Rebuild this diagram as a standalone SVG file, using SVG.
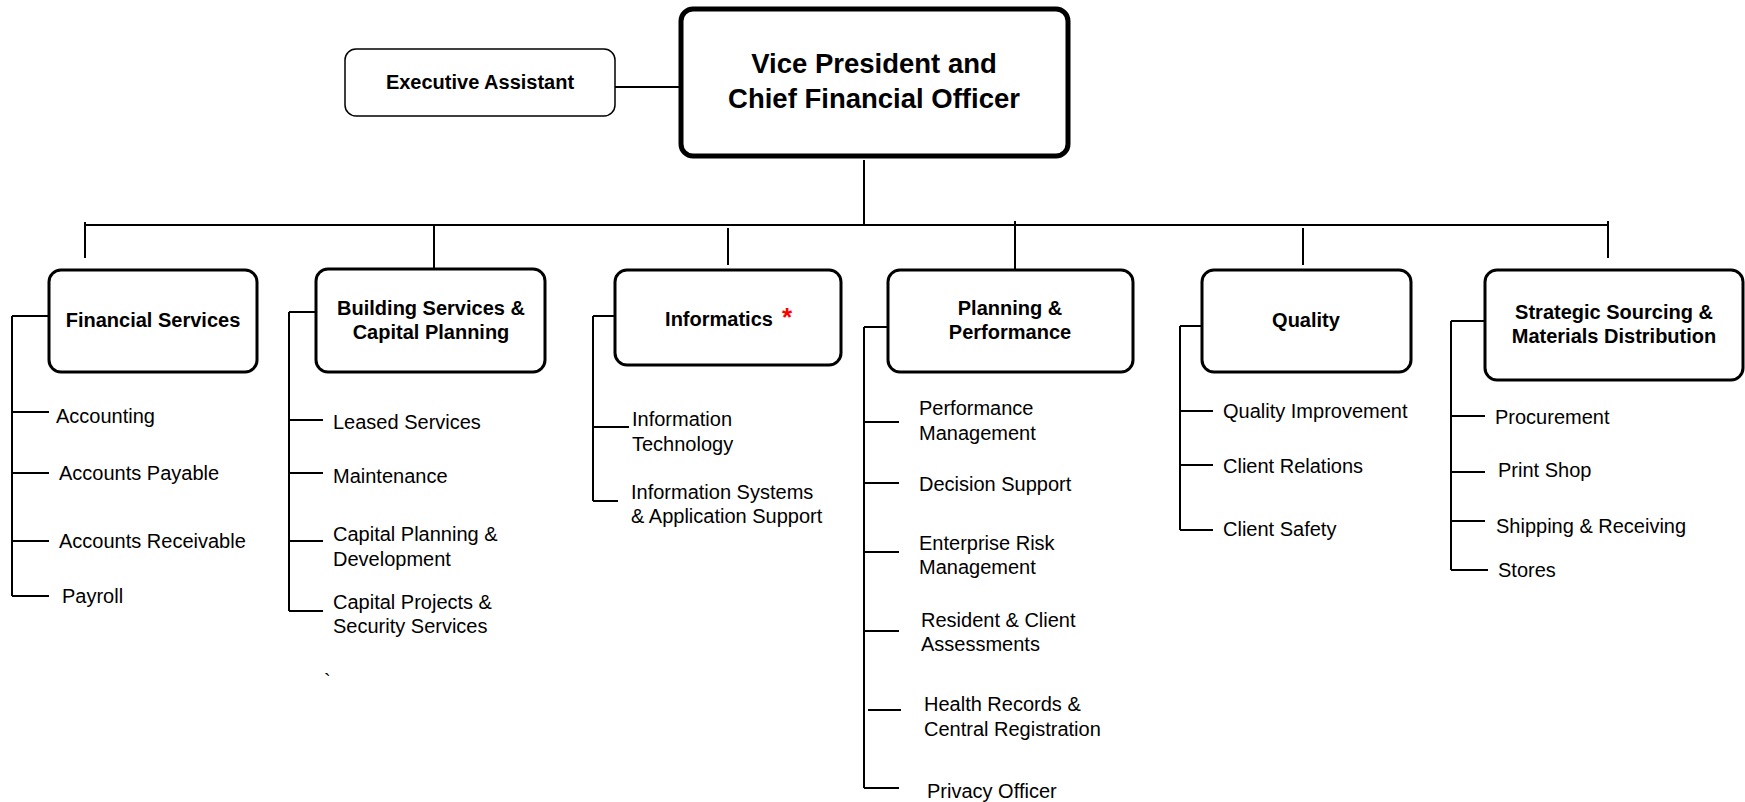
<svg xmlns="http://www.w3.org/2000/svg" width="1745" height="802" viewBox="0 0 1745 802">
<style>
.box{fill:#fff;stroke:#000;stroke-width:3}
.vp{fill:#fff;stroke:#000;stroke-width:5}
.ea{fill:#fff;stroke:#000;stroke-width:1.5}
.t{font-family:"Liberation Sans",Arial,sans-serif;font-weight:bold;font-size:20px;text-anchor:middle;fill:#000}
.vt{font-family:"Liberation Sans",Arial,sans-serif;font-weight:bold;font-size:27.5px;text-anchor:middle;fill:#000}
.i{font-family:"Liberation Sans",Arial,sans-serif;font-size:20px;fill:#000}
.star{font-family:"Liberation Sans",Arial,sans-serif;font-weight:bold;font-size:26px;text-anchor:middle;fill:#ff0000}
.c line{stroke:#000;stroke-width:2}
</style>
<rect width="1745" height="802" fill="#fff"/>
<g class="c" id="connectors">
<line x1="615" y1="87" x2="681" y2="87"/>
<line x1="864" y1="160" x2="864" y2="224"/>
<line x1="85" y1="225" x2="1609" y2="225"/>
<line x1="85" y1="222" x2="85" y2="258"/>
<line x1="434" y1="225" x2="434" y2="269"/>
<line x1="728" y1="228" x2="728" y2="265"/>
<line x1="1015" y1="221" x2="1015" y2="270"/>
<line x1="1303" y1="228" x2="1303" y2="265"/>
<line x1="1608" y1="221" x2="1608" y2="258"/>
<line x1="12" y1="316" x2="12" y2="596"/>
<line x1="12" y1="316" x2="49" y2="316"/>
<line x1="12" y1="412" x2="49" y2="412"/>
<line x1="12" y1="473" x2="49" y2="473"/>
<line x1="12" y1="541" x2="49" y2="541"/>
<line x1="12" y1="596" x2="49" y2="596"/>
<line x1="289" y1="312" x2="289" y2="611"/>
<line x1="289" y1="312" x2="316" y2="312"/>
<line x1="289" y1="420" x2="323" y2="420"/>
<line x1="289" y1="473" x2="323" y2="473"/>
<line x1="289" y1="541" x2="323" y2="541"/>
<line x1="289" y1="611" x2="323" y2="611"/>
<line x1="593" y1="316" x2="593" y2="501"/>
<line x1="593" y1="316" x2="615" y2="316"/>
<line x1="593" y1="427" x2="629" y2="427"/>
<line x1="593" y1="501" x2="618" y2="501"/>
<line x1="864" y1="327" x2="864" y2="788"/>
<line x1="864" y1="327" x2="888" y2="327"/>
<line x1="864" y1="422" x2="899" y2="422"/>
<line x1="864" y1="483" x2="899" y2="483"/>
<line x1="864" y1="552" x2="899" y2="552"/>
<line x1="864" y1="631" x2="899" y2="631"/>
<line x1="868" y1="710" x2="901" y2="710"/>
<line x1="864" y1="788" x2="899" y2="788"/>
<line x1="1180" y1="326" x2="1180" y2="530"/>
<line x1="1180" y1="326" x2="1202" y2="326"/>
<line x1="1180" y1="411" x2="1213" y2="411"/>
<line x1="1180" y1="465" x2="1213" y2="465"/>
<line x1="1180" y1="530" x2="1213" y2="530"/>
<line x1="1451" y1="321" x2="1451" y2="570"/>
<line x1="1451" y1="321" x2="1485" y2="321"/>
<line x1="1451" y1="416" x2="1485" y2="416"/>
<line x1="1451" y1="472" x2="1485" y2="472"/>
<line x1="1451" y1="521" x2="1485" y2="521"/>
<line x1="1451" y1="570" x2="1488" y2="570"/>
</g>
<g id="vp">
<rect class="vp" x="681" y="9" width="387" height="147" rx="12"/>
<text class="vt" x="874" y="73">Vice President and</text>
<text class="vt" x="874" y="108">Chief Financial Officer</text>
</g>
<g id="ea">
<rect class="ea" x="345" y="49" width="270" height="67" rx="11"/>
<text class="t" x="480" y="89">Executive Assistant</text>
</g>
<g id="financial">
<rect class="box" x="49" y="270" width="208" height="102" rx="12"/>
<text class="t" x="153" y="327">Financial Services</text>
<text class="i" x="56" y="423">Accounting</text>
<text class="i" x="59" y="480">Accounts Payable</text>
<text class="i" x="59" y="548">Accounts Receivable</text>
<text class="i" x="62" y="603">Payroll</text>
</g>
<g id="building">
<rect class="box" x="316" y="269" width="229" height="103" rx="12"/>
<text class="t" x="431" y="315">Building Services &amp;</text>
<text class="t" x="431" y="339">Capital Planning</text>
<text class="i" x="333" y="429">Leased Services</text>
<text class="i" x="333" y="483">Maintenance</text>
<text class="i" x="333" y="541">Capital Planning &amp;</text>
<text class="i" x="333" y="566">Development</text>
<text class="i" x="333" y="609">Capital Projects &amp;</text>
<text class="i" x="333" y="633">Security Services</text>
<text class="i" x="324" y="688">`</text>
</g>
<g id="informatics">
<rect class="box" x="615" y="270" width="226" height="95" rx="12"/>
<text class="t" x="719" y="326">Informatics</text>
<text class="star" x="787" y="326">*</text>
<text class="i" x="632" y="426">Information</text>
<text class="i" x="632" y="451">Technology</text>
<text class="i" x="631" y="499">Information Systems</text>
<text class="i" x="631" y="523">&amp; Application Support</text>
</g>
<g id="planning">
<rect class="box" x="888" y="270" width="245" height="102" rx="12"/>
<text class="t" x="1010" y="315">Planning &amp;</text>
<text class="t" x="1010" y="339">Performance</text>
<text class="i" x="919" y="415">Performance</text>
<text class="i" x="919" y="440">Management</text>
<text class="i" x="919" y="491">Decision Support</text>
<text class="i" x="919" y="550">Enterprise Risk</text>
<text class="i" x="919" y="574">Management</text>
<text class="i" x="921" y="627">Resident &amp; Client</text>
<text class="i" x="921" y="651">Assessments</text>
<text class="i" x="924" y="711">Health Records &amp;</text>
<text class="i" x="924" y="736">Central Registration</text>
<text class="i" x="927" y="798">Privacy Officer</text>
</g>
<g id="quality">
<rect class="box" x="1202" y="270" width="209" height="102" rx="12"/>
<text class="t" x="1306" y="327">Quality</text>
<text class="i" x="1223" y="418">Quality Improvement</text>
<text class="i" x="1223" y="473">Client Relations</text>
<text class="i" x="1223" y="536">Client Safety</text>
</g>
<g id="ssmd">
<rect class="box" x="1485" y="270" width="258" height="110" rx="12"/>
<text class="t" x="1614" y="319">Strategic Sourcing &amp;</text>
<text class="t" x="1614" y="343">Materials Distribution</text>
<text class="i" x="1495" y="424">Procurement</text>
<text class="i" x="1498" y="477">Print Shop</text>
<text class="i" x="1496" y="533">Shipping &amp; Receiving</text>
<text class="i" x="1498" y="577">Stores</text>
</g>
</svg>
